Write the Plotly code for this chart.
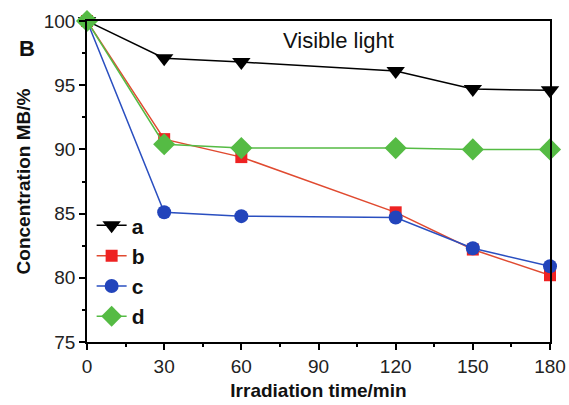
import plotly.graph_objects as go

time_min = [0, 30, 60, 120, 150, 180]
series_a = [100, 97.1, 96.8, 96.1, 94.7, 94.6]
series_b = [100, 90.8, 89.4, 85.1, 82.2, 80.2]
series_c = [100, 85.1, 84.8, 84.7, 82.3, 80.9]
series_d = [100, 90.4, 90.1, 90.1, 90.0, 90.0]
names = ["a", "b", "c", "d"]
x_ticks = [0, 30, 60, 90, 120, 150, 180]
y_ticks = [75, 80, 85, 90, 95, 100]

styles = [
    dict(color="#000000", symbol="triangle-down", size=16),
    dict(color="#ee2222", symbol="square", size=12),
    dict(color="#2244bb", symbol="circle", size=14),
    dict(color="#55bb44", symbol="diamond", size=17),
]
line_colors = ["#000000", "#e04a30", "#2a4fc0", "#55bb44"]

FONT = "Liberation Sans, Arial, sans-serif"

fig = go.Figure()
for name, ys, st, lc in zip(names, [series_a, series_b, series_c, series_d], styles, line_colors):
    fig.add_trace(go.Scatter(
        x=time_min, y=ys, name="<b>" + name + "</b>", mode="lines+markers",
        line=dict(color=lc, width=1.5),
        marker=dict(color=st["color"], symbol=st["symbol"], size=st["size"], line=dict(width=0)),
        cliponaxis=False,
    ))

axis_common = dict(
    showline=True, linecolor="black", linewidth=1.5, mirror=True, automargin=False,
    showgrid=False, zeroline=False, ticks="outside", ticklen=6, tickwidth=1.5,
    tickcolor="black", tickfont=dict(family=FONT, size=19, color="#222"),
    minor=dict(ticks="outside", ticklen=3, tickwidth=1.5, tickcolor="black"),
)
fig.update_xaxes(range=[0, 180], tickvals=x_ticks, minor_dtick=15,
                 title=dict(text="<b>Irradiation time/min</b>", font=dict(family=FONT, size=19, color="#111"), standoff=8),
                 **axis_common)
fig.update_yaxes(range=[75, 100], tickvals=y_ticks, minor_dtick=2.5,
                 title=dict(text="<b>Concentration MB/%</b>", font=dict(family=FONT, size=19, color="#111"), standoff=8),
                 **axis_common)

fig.add_annotation(text="<b>B</b>", x=(17 - 87) / 463, y=(342 - 34) / 321, xref="paper", yref="paper",
                   showarrow=False, font=dict(family=FONT, size=22, color="#111"))
fig.add_annotation(text="Visible light", x=(338 - 87) / 463, y=(342 - 40) / 321, xref="paper", yref="paper",
                   showarrow=False, xanchor="center", yanchor="middle",
                   font=dict(family=FONT, size=22, color="#111"))

fig.update_layout(
    width=569, height=405,
    margin=dict(l=87, r=19, t=21, b=63, autoexpand=False),
    paper_bgcolor="white", plot_bgcolor="white",
    showlegend=True,
    legend=dict(x=0.01, y=0.015, xanchor="left", yanchor="bottom", bgcolor="rgba(0,0,0,0)",
                font=dict(family=FONT, size=21, color="#111"),
                tracegroupgap=0, itemsizing="trace"),
)

fig.write_html("out.html", config={"displayModeBar": False},
               post_script="document.body.style.margin='0';document.body.style.padding='0';")
